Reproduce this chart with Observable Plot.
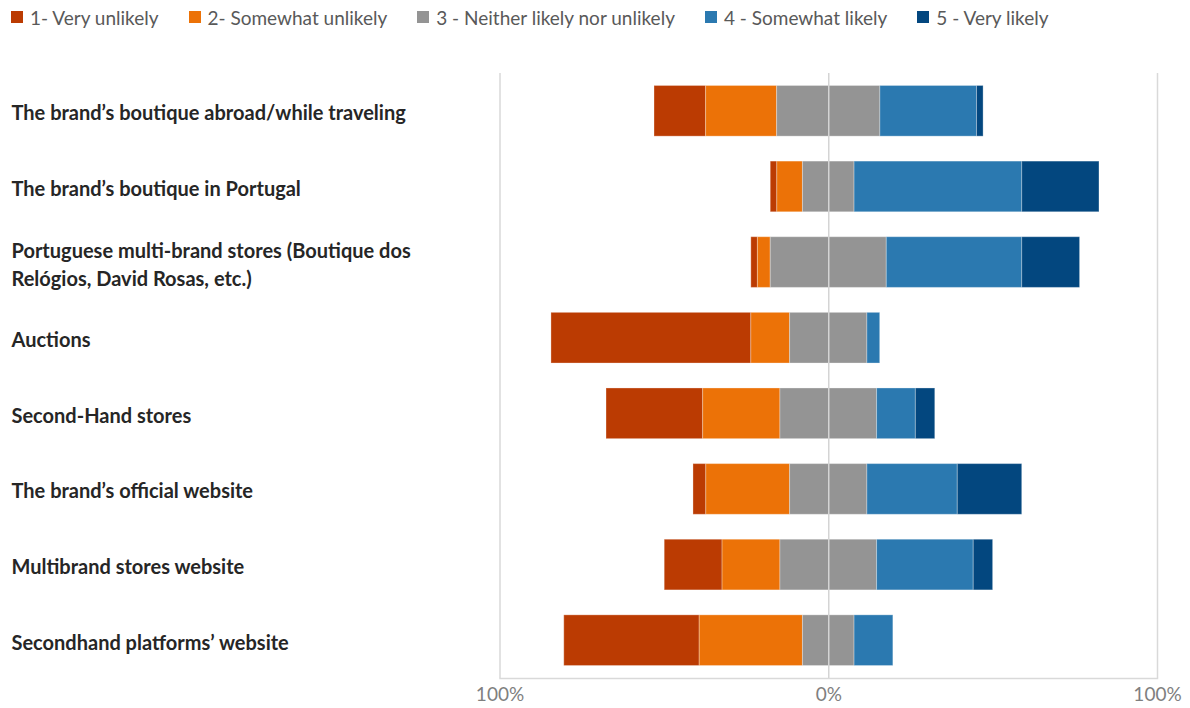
<!DOCTYPE html>
<html>
<head>
<meta charset="utf-8">
<script src="https://cdn.jsdelivr.net/npm/d3@7"></script>
<script src="https://cdn.jsdelivr.net/npm/@observablehq/plot@0.6"></script>
<style>
  html, body { margin: 0; padding: 0; background: #fff; }
  body { width: 1190px; height: 708px; overflow: hidden; font-family: Lato, "Open Sans", sans-serif; }
  #legend { height: 40px; display: flex; align-items: center; padding-left: 11px; padding-bottom: 6px; box-sizing: border-box; }
  .item { display: flex; align-items: center; margin-right: 30px; font-size: 19px; color: #595959; white-space: nowrap; }
  .sw { width: 12px; height: 12px; margin-right: 7px; flex: none; }
  #chart svg { display: block; }
</style>
</head>
<body>
<div id="legend"></div>
<div id="chart"></div>
<script>
const categories = [
  "The brand’s boutique abroad/while traveling",
  "The brand’s boutique in Portugal",
  "Portuguese multi-brand stores (Boutique dos\nRelógios, David Rosas, etc.)",
  "Auctions",
  "Second-Hand stores",
  "The brand’s official website",
  "Multibrand stores website",
  "Secondhand platforms’ website"
];
const responseLabels = [
  "1- Very unlikely",
  "2- Somewhat unlikely",
  "3 - Neither likely nor unlikely",
  "4 - Somewhat likely",
  "5 - Very likely"
];
const colors = ["#bb3b02", "#ec7207", "#949494", "#2b79b0", "#03477f"];

const veryUnlikely     = [15.7,  2.0,  2.0, 60.8, 29.4,  3.9, 17.6, 41.2];
const somewhatUnlikely = [21.6,  7.8,  3.9, 11.8, 23.5, 25.5, 17.6, 31.4];
const neutral          = [31.4, 15.7, 35.3, 23.5, 29.4, 23.5, 29.4, 15.7];
const somewhatLikely   = [29.4, 51.0, 41.2,  3.9, 11.8, 27.5, 29.4, 11.8];
const veryLikely       = [ 2.0, 23.5, 17.6,  0.0,  5.9, 19.6,  5.9,  0.0];

const xTicks = [-100, 0, 100];

// Build diverging segments (neutral split around 0)
const series = [veryUnlikely, somewhatUnlikely, neutral, somewhatLikely, veryLikely];
const segments = [];
categories.forEach((cat, i) => {
  let x = -(veryUnlikely[i] + somewhatUnlikely[i] + neutral[i] / 2);
  series.forEach((s, k) => {
    const v = s[i];
    if (v > 0) segments.push({cat, response: responseLabels[k], x1: x, x2: x + v});
    x += v;
  });
});

// Legend
const legend = document.getElementById("legend");
responseLabels.forEach((lab, k) => {
  const it = document.createElement("div");
  it.className = "item";
  const sw = document.createElement("span");
  sw.className = "sw";
  sw.style.background = colors[k];
  const tx = document.createElement("span");
  tx.textContent = lab;
  it.appendChild(sw); it.appendChild(tx);
  legend.appendChild(it);
});

const chart = Plot.plot({
  width: 1190,
  height: 668,
  marginLeft: 499.5,
  marginRight: 33,
  marginTop: 33,
  marginBottom: 30,
  style: {fontFamily: "Lato, 'Open Sans', sans-serif", background: "#fff"},
  x: {domain: [-100, 100]},
  y: {domain: categories, paddingInner: 0.33, paddingOuter: 0.165, round: false, axis: null, label: null},
  color: {domain: responseLabels, range: colors},
  marks: [
    Plot.ruleX([-100, 100], {stroke: "#d9d9d9", strokeWidth: 1.5}),
    Plot.frame({anchor: "bottom", stroke: "#d9d9d9", strokeWidth: 1.5}),
    Plot.barX(segments, {
      y: "cat", x1: "x1", x2: "x2", fill: "response",
      stroke: "white", strokeOpacity: 0.3, strokeWidth: 1, inset: 0
    }),
    Plot.ruleX([0], {stroke: "#d4d4d4", strokeWidth: 1.5}),
    Plot.axisX({
      ticks: xTicks, tickSize: 0, tickPadding: 9,
      tickFormat: d => Math.abs(d) + "%",
      fontSize: 19, fill: "#7f7f7f", label: null
    }),
    Plot.text(categories, {
      y: d => d, text: d => d, frameAnchor: "left", textAnchor: "start",
      dx: -488.5, fontSize: 20, fontWeight: "bold", fill: "#262626",
      lineHeight: 1.4
    })
  ]
});
document.getElementById("chart").appendChild(chart);
</script>
</body>
</html>
